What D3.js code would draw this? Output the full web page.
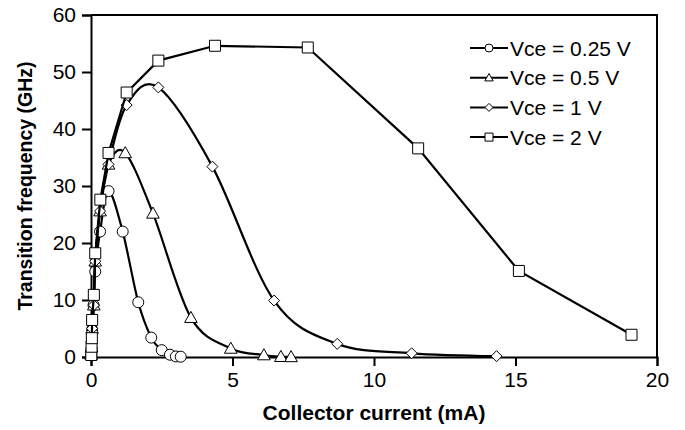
<!DOCTYPE html>
<html>
<head>
<meta charset="utf-8">
<script src="https://cdn.jsdelivr.net/npm/d3@7"></script>
<style>
  body { margin: 0; background: #fff; }
  svg text { font-family: "Liberation Sans", Arial, sans-serif; fill: #000; }
</style>
</head>
<body>
<div id="chart"></div>
<script>
// collector current (mA), transition frequency (GHz)
var vce025 = [[0.01,0.3],[0.02,1.5],[0.04,4.8],[0.09,9.1],[0.15,15.0],[0.32,22.0],[0.62,29.1],[1.12,22.0],[1.67,9.6],[2.13,3.4],[2.5,1.2],[2.79,0.4],[3.0,0.1],[3.17,0.05]];
var vce05 = [[0.01,0.4],[0.02,1.7],[0.04,5.0],[0.1,9.1],[0.15,16.8],[0.32,25.6],[0.62,33.8],[1.21,35.8],[2.19,25.2],[3.53,6.9],[4.94,1.5],[6.11,0.35],[6.71,0.05],[7.07,0.02]];
var vce1 = [[0.01,0.4],[0.02,1.7],[0.04,5.0],[0.1,9.1],[0.15,16.8],[0.32,25.6],[0.62,33.8],[1.26,44.2],[2.38,47.3],[4.29,33.4],[6.47,9.9],[8.7,2.3],[11.33,0.65],[14.33,0.15]];
var vce2 = [[0.01,0.35],[0.02,1.8],[0.03,3.3],[0.04,6.5],[0.1,10.9],[0.15,18.2],[0.33,27.6],[0.62,35.8],[1.26,46.4],[2.38,52.0],[4.38,54.6],[7.66,54.3],[11.56,36.6],[15.12,15.1],[19.1,3.9]];

var seriesNames = ['Vce = 0.25 V', 'Vce = 0.5 V', 'Vce = 1 V', 'Vce = 2 V'];
var xTicks = [0, 5, 10, 15, 20];
var yTicks = [0, 10, 20, 30, 40, 50, 60];

var width = 685, height = 430,
    margin = {left: 91, right: 28, top: 15, bottom: 73};

var series = [
  {name: seriesNames[0], data: vce025, shape: 'circle', smooth: true},
  {name: seriesNames[1], data: vce05, shape: 'triangle', smooth: true},
  {name: seriesNames[2], data: vce1, shape: 'diamond', smooth: true},
  {name: seriesNames[3], data: vce2, shape: 'square', smooth: false}
];

var x = d3.scaleLinear().domain([0, 20]).range([margin.left, width - margin.right]);
var y = d3.scaleLinear().domain([0, 60]).range([height - margin.bottom, margin.top]);

var svg = d3.select('#chart')
  .append('svg')
    .attr('width', width)
    .attr('height', height);

function markerPath(shape, s) {
  var h = s / 2;
  if (shape == 'circle') {
    return 'M' + h + ',0A' + h + ',' + h + ' 0 1,1 ' + (-h) + ',0A' + h + ',' + h + ' 0 1,1 ' + h + ',0Z';
  } else if (shape == 'square') {
    return 'M' + (-h) + ',' + (-h) + 'H' + h + 'V' + h + 'H' + (-h) + 'Z';
  } else if (shape == 'diamond') {
    return 'M0,' + (-h) + 'L' + h + ',0L0,' + h + 'L' + (-h) + ',0Z';
  }
  return 'M0,' + (-h * 1.05) + 'L' + (h * 1.05) + ',' + (h * 0.8) + 'L' + (-h * 1.05) + ',' + (h * 0.8) + 'Z';
}

// frame
svg.append('path')
  .attr('d', 'M' + x(0) + ',' + y(60) + 'H' + x(20) + 'V' + y(0))
  .attr('fill', 'none')
  .attr('stroke', '#000')
  .attr('stroke-width', 2);

var xAxis = svg.append('g')
  .attr('transform', 'translate(0,' + y(0) + ')')
  .call(d3.axisBottom(x).tickValues(xTicks).tickSize(9).tickPadding(6));
var yAxis = svg.append('g')
  .attr('transform', 'translate(' + x(0) + ',0)')
  .call(d3.axisLeft(y).tickValues(yTicks).tickSize(9).tickPadding(6));

[xAxis, yAxis].forEach(function (a) {
  a.select('.domain').attr('stroke-width', 2);
  a.selectAll('.tick line').attr('stroke-width', 2);
  a.selectAll('.tick text')
    .style('font-size', '21px')
    .attr('fill', '#000');
});

svg.append('text')
  .attr('x', (x(0) + x(20)) / 2)
  .attr('y', 420)
  .attr('text-anchor', 'middle')
  .style('font-size', '21px')
  .style('font-weight', 'bold')
  .text('Collector current (mA)');

svg.append('text')
  .attr('transform', 'translate(32,' + ((y(0) + y(60)) / 2) + ') rotate(-90)')
  .attr('text-anchor', 'middle')
  .style('font-size', '19.5px')
  .style('font-weight', 'bold')
  .text('Transition frequency (GHz)');

var g = svg.selectAll('g.series')
  .data(series)
  .enter().append('g')
    .classed('series', true);

g.append('path')
  .attr('fill', 'none')
  .attr('stroke', '#000')
  .attr('stroke-width', 2.2)
  .attr('d', function (s) {
    var line = d3.line()
      .x(function (d) { return x(d[0]); })
      .y(function (d) { return y(d[1]); })
      .curve(s.smooth ? d3.curveCardinal.tension(0) : d3.curveLinear);
    return line(s.data);
  });

g.each(function (s) {
  d3.select(this).selectAll('path.mark')
    .data(s.data)
    .enter().append('path')
      .classed('mark', true)
      .attr('transform', function (d) { return 'translate(' + x(d[0]) + ',' + y(d[1]) + ')'; })
      .attr('d', markerPath(s.shape, s.shape == 'triangle' ? 12 : 11))
      .attr('fill', '#fff')
      .attr('stroke', '#000')
      .attr('stroke-width', 1);
});

// legend
var legend = svg.selectAll('g.legend')
  .data(series)
  .enter().append('g')
    .classed('legend', true)
    .attr('transform', function (s, i) { return 'translate(470,' + (48 + i * 29.7) + ')'; });

legend.append('line')
  .attr('x1', 0).attr('x2', 38)
  .attr('stroke', '#000')
  .attr('stroke-width', 2);
legend.append('path')
  .attr('transform', 'translate(19,0)')
  .attr('d', function (s) { return markerPath(s.shape, 8); })
  .attr('fill', '#fff')
  .attr('stroke', '#000')
  .attr('stroke-width', 1);
legend.append('text')
  .attr('x', 40)
  .attr('dy', '0.36em')
  .style('font-size', '21px')
  .text(function (s) { return s.name; });
</script>
</body>
</html>
